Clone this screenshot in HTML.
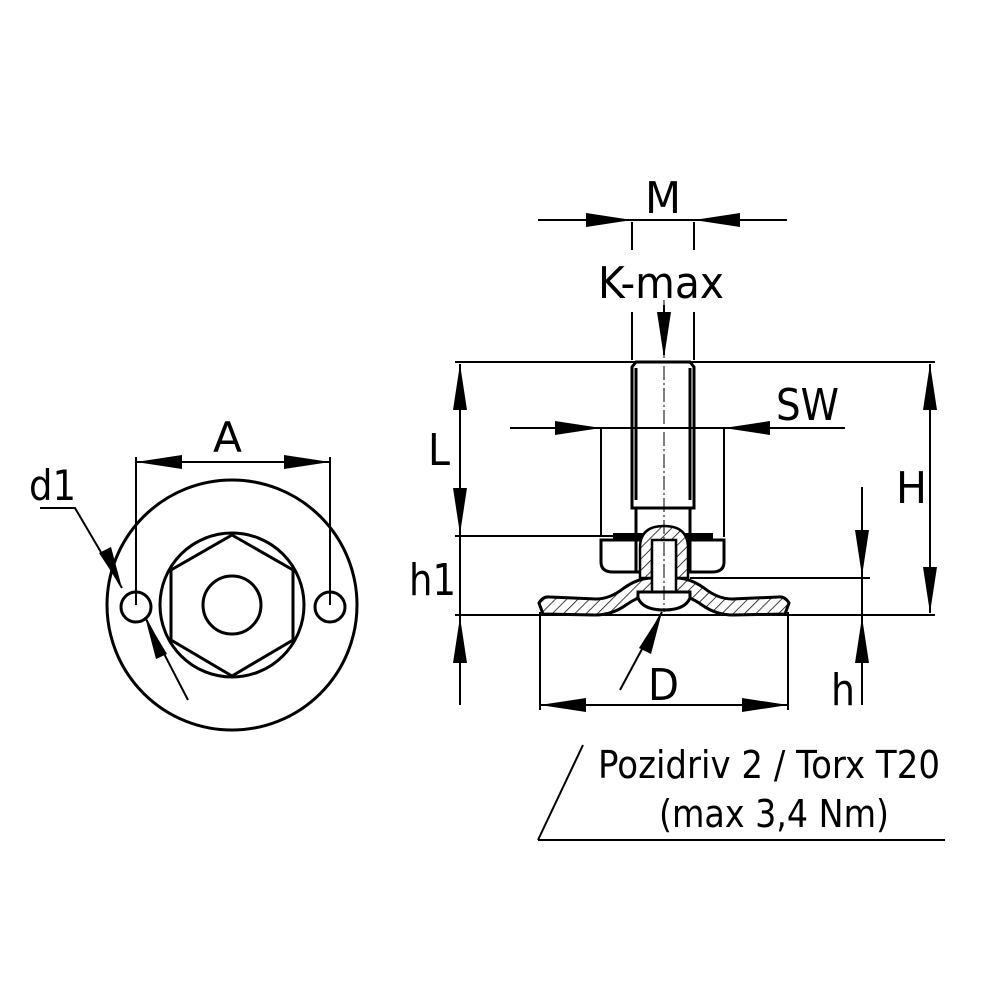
<!DOCTYPE html>
<html><head><style>
html,body{margin:0;padding:0;background:#fff;}
svg text{font-family:"DejaVu Sans","Liberation Sans",sans-serif;fill:#000;}
</style></head><body>
<svg width="1000" height="1000" viewBox="0 0 1000 1000" xmlns="http://www.w3.org/2000/svg">
<defs>
<pattern id="hat" width="8" height="8" patternUnits="userSpaceOnUse" patternTransform="rotate(45)">
<rect width="8" height="8" fill="#fff"/><line x1="0" y1="0" x2="0" y2="8" stroke="#000" stroke-width="1.5"/></pattern>
</defs>
<g fill="none" stroke="#000" stroke-width="3">
<circle cx="232" cy="605" r="125"/>
<circle cx="232" cy="605" r="72"/>
<polygon points="232,535 293,570 293,640 232,676 171,640 171,570"/>
<circle cx="232" cy="605" r="29"/>
<circle cx="136" cy="607" r="15"/>
<circle cx="330" cy="607" r="15"/>
</g>
<g stroke="#000" stroke-width="2" fill="none">
<line x1="136" y1="457" x2="136" y2="605"/>
<line x1="330" y1="457" x2="330" y2="605"/>
<line x1="136" y1="462" x2="330" y2="462"/>
<polyline points="40,508 75,508 122,588"/>
<line x1="145" y1="617" x2="188" y2="700"/>
</g>
<g fill="#000">
<polygon points="136,462 182,455 182,469"/>
<polygon points="330,462 284,455 284,469"/>
<polygon points="122,588 99,553 111,547"/>
<polygon points="145,617 167,654 156,659"/>
</g>
<text x="213" y="452" font-size="42" textLength="29" lengthAdjust="spacingAndGlyphs">A</text>
<text x="29" y="500" font-size="42" textLength="47" lengthAdjust="spacingAndGlyphs">d1</text>

<g stroke="#000" stroke-width="3" fill="none">
<path d="M636,362 L690,362 L694,367 L694,508 L632,508 L632,367 Z"/>
<line x1="636" y1="368" x2="636" y2="500"/>
<line x1="690" y1="368" x2="690" y2="500"/>
<line x1="636" y1="508" x2="636" y2="535"/>
<line x1="690" y1="508" x2="690" y2="535"/>
<path d="M601,540 L724,540 L724,562 Q724,572 712,572 L613,572 Q601,572 601,562 Z"/>
<line x1="636" y1="540" x2="636" y2="572"/>
<line x1="690" y1="540" x2="690" y2="572"/>
</g>
<rect x="613" y="533" width="100" height="6" fill="#000"/>
<path d="M539,603 Q543,596 550,597 L596,599 Q610,599 624,588 Q638,578 652,578 L676,578 Q690,578 704,588 Q718,599 732,599 L778,597 Q785,596 789,603 L785,614 L733,615 Q716,615 702,605 Q688,595 676,595 L652,595 Q640,595 626,605 Q612,615 595,615 L543,614 Z" fill="url(#hat)" stroke="#000" stroke-width="3"/>
<path d="M640,578 L640,548 Q640,526 664,526 Q688,526 688,548 L688,578 L676,578 L676,548 L652,548 L652,578 Z" fill="url(#hat)" stroke="#000" stroke-width="2.5"/>
<rect x="652" y="540" width="24" height="52" fill="#fff" stroke="#000" stroke-width="2.5"/>
<path d="M638,592 L690,592 L690,598 Q685,610 664,610 Q643,610 638,598 Z" fill="#fff" stroke="#000" stroke-width="3"/>
<line x1="664" y1="300" x2="664" y2="612" stroke="#000" stroke-width="1" stroke-dasharray="14,3,2,3"/>

<g stroke="#000" stroke-width="2" fill="none">
<line x1="538" y1="220" x2="787" y2="220"/>
<line x1="632" y1="222" x2="632" y2="250"/>
<line x1="694" y1="222" x2="694" y2="250"/>
<line x1="632" y1="312" x2="632" y2="360"/>
<line x1="694" y1="312" x2="694" y2="360"/>
<line x1="664" y1="305" x2="664" y2="355"/>
<line x1="455" y1="362" x2="935" y2="362"/>
<line x1="455" y1="536" x2="640" y2="536"/>
<line x1="455" y1="615" x2="935" y2="615"/>
<line x1="460" y1="364" x2="460" y2="705"/>
<line x1="930" y1="364" x2="930" y2="613"/>
<line x1="510" y1="428" x2="845" y2="428"/>
<line x1="601" y1="428" x2="601" y2="537"/>
<line x1="724" y1="428" x2="724" y2="537"/>
<line x1="690" y1="578" x2="870" y2="578"/>
<line x1="862" y1="487" x2="862" y2="705"/>
<line x1="540" y1="612" x2="540" y2="710"/>
<line x1="788" y1="612" x2="788" y2="710"/>
<line x1="540" y1="705" x2="788" y2="705"/>
<line x1="620" y1="690" x2="662" y2="612"/>
<polyline points="538,840 583,745"/>
<line x1="538" y1="840" x2="945" y2="840"/>
</g>
<g fill="#000">
<polygon points="632,220 586,213 586,227"/>
<polygon points="694,220 740,213 740,227"/>
<polygon points="664,358 657,312 671,312"/>
<polygon points="460,364 453,410 467,410"/>
<polygon points="460,534 453,488 467,488"/>
<polygon points="460,617 453,663 467,663"/>
<polygon points="930,364 923,410 937,410"/>
<polygon points="930,613 923,567 937,567"/>
<polygon points="601,428 555,421 555,435"/>
<polygon points="724,428 770,421 770,435"/>
<polygon points="862,576 855,530 869,530"/>
<polygon points="862,617 855,663 869,663"/>
<polygon points="540,705 586,698 586,712"/>
<polygon points="788,705 742,698 742,712"/>
<polygon points="662,612 651,654 639,648"/>
</g>
<text x="645" y="213" font-size="44" textLength="36" lengthAdjust="spacingAndGlyphs">M</text>
<text x="598" y="298" font-size="44" textLength="126" lengthAdjust="spacingAndGlyphs">K-max</text>
<text x="776" y="420" font-size="44" textLength="63" lengthAdjust="spacingAndGlyphs">SW</text>
<text x="428" y="465" font-size="44" textLength="22" lengthAdjust="spacingAndGlyphs">L</text>
<text x="409" y="595" font-size="44" textLength="47" lengthAdjust="spacingAndGlyphs">h1</text>
<text x="896" y="503" font-size="44" textLength="31" lengthAdjust="spacingAndGlyphs">H</text>
<text x="831" y="705" font-size="44" textLength="24" lengthAdjust="spacingAndGlyphs">h</text>
<text x="648" y="700" font-size="44" textLength="31" lengthAdjust="spacingAndGlyphs">D</text>
<text x="598" y="778" font-size="38" textLength="342" lengthAdjust="spacingAndGlyphs">Pozidriv 2 / Torx T20</text>
<text x="659" y="827" font-size="38" textLength="230" lengthAdjust="spacingAndGlyphs">(max 3,4 Nm)</text>
</svg>
</body></html>
